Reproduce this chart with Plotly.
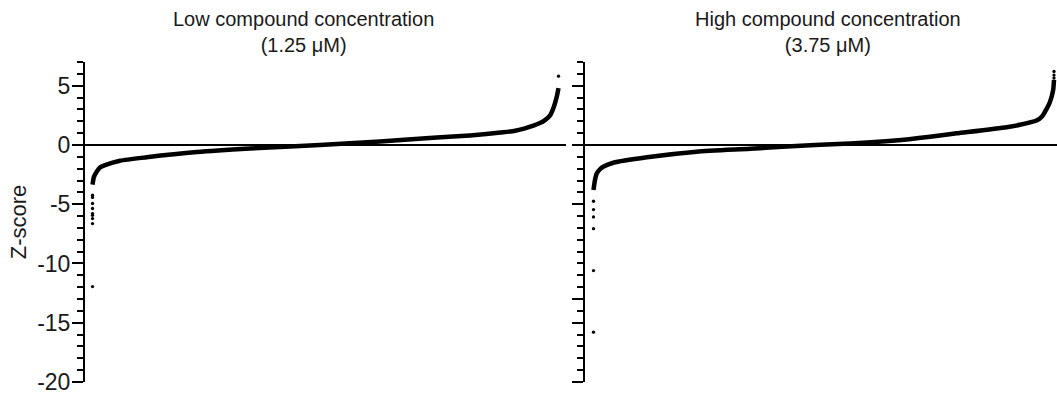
import plotly.graph_objects as go

# ---- data (rank in % of genes, Z-score) ----
low_rank = [0.0, 0.3, 0.9, 1.6, 2.7, 5.9, 11.6, 22.4, 33.8, 48.8, 61.7, 73.9, 81.0, 88.1, 90.7, 92.8,
            96.0, 97.1, 98.2, 98.8, 99.3, 99.7, 100.0]
low_z    = [-3.35, -2.7, -2.26, -1.9, -1.7, -1.33, -1.04, -0.6, -0.3, 0.0, 0.3, 0.62, 0.8, 1.07, 1.2, 1.4,
            1.85, 2.1, 2.5, 3.0, 3.6, 4.2, 4.8]
low_out_rank = [0, 0, 0, 0, 0, 0, 0, 0, 0, 100]
low_out_z    = [-11.95, -6.63, -6.21, -5.93, -5.79, -5.36, -4.94, -4.43, -4.24, 5.8]

high_rank = [0.0, 0.3, 0.7, 1.4, 2.1, 4.3, 11.6, 22.4, 34.0, 48.1, 55.7, 65.5, 73.1, 78.9, 89.7, 92.6,
             96.2, 97.4, 98.4, 99.1, 99.8, 100.0]
high_z    = [-3.8, -3.0, -2.4, -2.05, -1.84, -1.5, -1.04, -0.57, -0.32, 0.0, 0.12, 0.38, 0.7, 0.98, 1.5, 1.7,
             2.06, 2.4, 3.05, 3.6, 4.6, 5.5]
high_out_rank = [0, 0, 0, 0, 0, 0, 100, 100, 100]
high_out_z    = [-15.8, -10.6, -7.06, -6.07, -5.45, -4.75, 5.65, 5.9, 6.2]

titles = ["Low compound concentration<br>(1.25 μM)", "High compound concentration<br>(3.75 μM)"]
y_tickvals_left = [5, 0, -5, -10, -15, -20]
y_ticktext_left = ["5", "0", "-5", "-10", "-15", "-20"]
y_tickvals_right = [5, 0, -5, -13, -15, -20]

W, H = 1057, 394
ML, MR, MT, MB = 85, 0, 62, 12
PW = W - ML - MR
PH = H - MT - MB

def px2paper(x):
    return (x - ML) / PW

FONT = "Liberation Sans, Arial, sans-serif"
TXT = "#1a1a1a"

fig = go.Figure()
fig.add_trace(go.Scatter(x=low_rank, y=low_z, mode="lines", line=dict(color="black", width=4.5, shape="spline", smoothing=0.6),
                         xaxis="x", yaxis="y", showlegend=False))
fig.add_trace(go.Scatter(x=low_out_rank, y=low_out_z, mode="markers", marker=dict(color="black", size=3.3),
                         xaxis="x", yaxis="y", showlegend=False))
fig.add_trace(go.Scatter(x=high_rank, y=high_z, mode="lines", line=dict(color="black", width=4.5, shape="spline", smoothing=0.6),
                         xaxis="x2", yaxis="y2", showlegend=False))
fig.add_trace(go.Scatter(x=high_out_rank, y=high_out_z, mode="markers", marker=dict(color="black", size=3.3),
                         xaxis="x2", yaxis="y2", showlegend=False))

xcommon = dict(showline=False, showticklabels=False, showgrid=False, zeroline=False, ticks="")
ycommon = dict(range=[-20, 7], showline=True, linecolor="black", linewidth=2, showgrid=False,
               zeroline=True, zerolinecolor="black", zerolinewidth=2,
               ticks="outside", ticklen=11, tickwidth=1.8, tickcolor="black",
               minor=dict(dtick=1, tick0=0, ticks="outside", ticklen=6, tickwidth=1.6, tickcolor="black"),
               tickfont=dict(family=FONT, size=23, color=TXT), ticklabeloverflow="allow",
               ticklabelstandoff=-3)

# data spans pixels 92.5..558.5 inside an axis from 85..566 (left); 593.5..1054 inside 585..1057 (right)
l0, l1, d0, d1 = 85, 566, 92.5, 558.5
sl = 100 / (d1 - d0)
r0, r1, e0, e1 = 585, 1057, 593.5, 1054
sr = 100 / (e1 - e0)

fig.update_layout(
    width=W, height=H,
    margin=dict(l=ML, r=MR, t=MT, b=MB),
    paper_bgcolor="white", plot_bgcolor="white",
    xaxis=dict(domain=[px2paper(l0), px2paper(l1)], range=[(l0 - d0) * sl, 100 + (l1 - d1) * sl], **xcommon),
    xaxis2=dict(domain=[px2paper(r0), px2paper(r1)], range=[(r0 - e0) * sr, 100 + (r1 - e1) * sr], **xcommon),
    yaxis=dict(anchor="x", tickvals=y_tickvals_left, ticktext=y_ticktext_left,
               title=dict(text="Z-score", font=dict(family=FONT, size=22, color=TXT), standoff=4),
               **ycommon),
    yaxis2=dict(anchor="x2", tickvals=y_tickvals_right, showticklabels=False, **ycommon),
    font=dict(family=FONT, color=TXT),
)

for i, t in enumerate(titles):
    cx = [303, 828][i]
    fig.add_annotation(text=t, x=px2paper(cx), y=1 + 4 / PH, xref="paper", yref="paper",
                       xanchor="center", yanchor="bottom", showarrow=False,
                       font=dict(family=FONT, size=20, color=TXT), align="center")

fig.write_html(
    "out.html",
    config={"displayModeBar": False},
    post_script="document.body.style.margin='0';document.body.style.overflow='hidden';",
)
